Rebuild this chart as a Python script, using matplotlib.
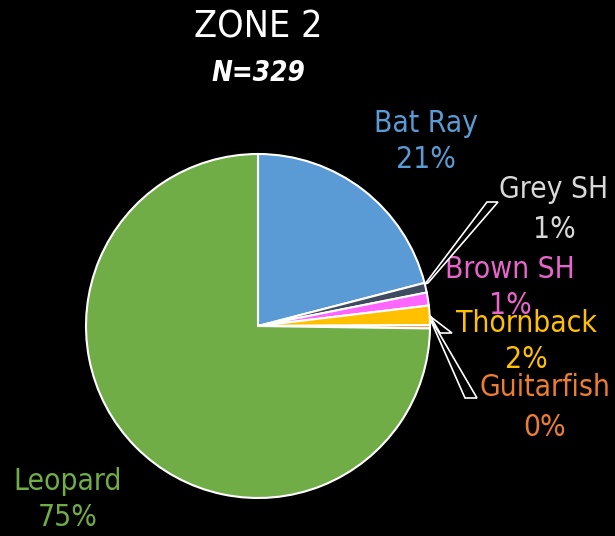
import matplotlib.pyplot as plt
from matplotlib.patches import Polygon

# Zone 2 catch composition (counts, N=329)
species = ['Bat Ray', 'Grey SH', 'Brown SH', 'Thornback', 'Guitarfish', 'Leopard']
counts = [69, 3, 4, 6, 1, 246]
pct_labels = ['21%', '1%', '1%', '2%', '0%', '75%']
slice_colors = ['#5B9BD5', '#3F4B5E', '#FF66FF', '#FFC000', '#ED7D31', '#70AD47']
text_colors = ['#5B9BD5', '#D9D9D9', '#E865CC', '#FFC000', '#ED7D31', '#70AD47']

W, H = 615, 536
fig = plt.figure(figsize=(W / 100, H / 100), dpi=100, facecolor='black')
ax = fig.add_axes([0, 0, 1, 1])
ax.set_facecolor('black')
ax.axis('off')

font = ['DejaVu Sans']

ax.pie(counts, colors=slice_colors, startangle=90, counterclock=False,
       center=(258, H - 326), radius=172,
       wedgeprops=dict(edgecolor='white', linewidth=1.5))
ax.set_aspect('equal')
ax.set_xlim(0, W)
ax.set_ylim(0, H)

# label positions in pixels (x, y from top): name line, pct line
label_pos = [(426, 124, 160), (554, 190, 230), (510, 270, 305),
             (526, 324, 360), (545, 387, 428), (68, 481, 518)]
for name, pct, col, (x, y1, y2) in zip(species, pct_labels, text_colors, label_pos):
    ax.text(x, H - y1, name, color=col, fontsize=21.5, family=font,
            fontstretch='condensed', ha='center', va='center')
    ax.text(x, H - y2, pct, color=col, fontsize=21.5, family=font,
            fontstretch='condensed', ha='center', va='center')

# leader lines (thin outlined wedges like the original)
leaders = [
    [(425, 284), (487, 202), (498, 202), (428, 283)],
    [(430, 316), (440, 333), (452, 333), (431, 317)],
    [(431, 321), (465, 398), (477, 398), (432, 321)],
]
for pts in leaders:
    ax.add_patch(Polygon([(px, H - py) for px, py in pts], closed=True,
                         facecolor='black', edgecolor='white', linewidth=1.2, zorder=5))

fig.text(258 / W, 1 - 28 / H, 'ZONE 2', color='white', fontsize=27, family=font,
         fontstretch='condensed', ha='center', va='center')
fig.text(258 / W, 1 - 73 / H, 'N=329', color='white', fontsize=20, family=font,
         fontstretch='condensed', style='italic', weight='semibold',
         ha='center', va='center')

fig.savefig('out.png', dpi=100, facecolor='black')
